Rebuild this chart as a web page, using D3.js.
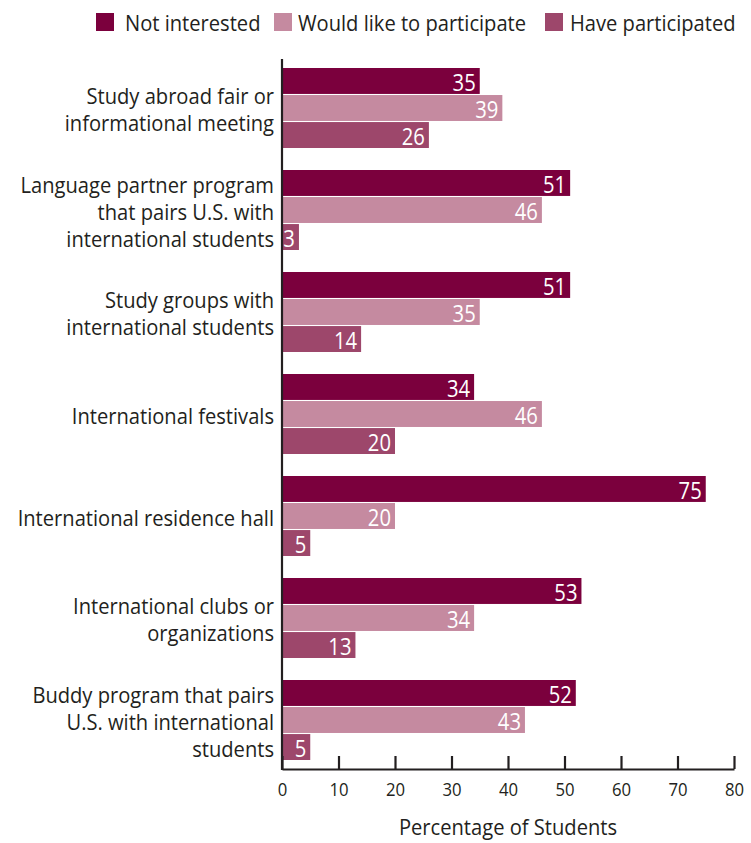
<!DOCTYPE html>
<html>
<head>
<meta charset="utf-8">
<script src="https://cdn.jsdelivr.net/npm/d3@7"></script>
<style>
  html, body { margin: 0; padding: 0; background: #fff; }
  svg text { font-family: "Open Sans", "Noto Sans", sans-serif; }
</style>
</head>
<body>
<svg id="chart" width="751" height="843"></svg>
<script>
// Activity categories (each may wrap over several lines)
const categories = [
  ["Study abroad fair or", "informational meeting"],
  ["Language partner program", "that pairs U.S. with", "international students"],
  ["Study groups with", "international students"],
  ["International festivals"],
  ["International residence hall"],
  ["International clubs or", "organizations"],
  ["Buddy program that pairs", "U.S. with international", "students"]
];
const seriesNames = ["Not interested", "Would like to participate", "Have participated"];
const notInterested = [35, 51, 51, 34, 75, 53, 52];
const wouldLike = [39, 46, 35, 46, 20, 34, 43];
const haveParticipated = [26, 3, 14, 20, 5, 13, 5];
const xTicks = [0, 10, 20, 30, 40, 50, 60, 70, 80];
const colors = ["#7b003d", "#c58aa0", "#9d476b"];

const seriesValues = [notInterested, wouldLike, haveParticipated];
const catKeys = categories.map(c => c.join(" "));

const svg = d3.select("#chart");
const x0 = 282, x1 = 734, yTop = 57, yBottom = 771, axisY = 769;
const ink = "#231f20";
// Horizontal squeeze giving the humanist sans a semi-condensed look
const narrow = 0.915;

const x = d3.scaleLinear().domain([0, 80]).range([x0, x1]);
const y = d3.scaleBand().domain(catKeys).range([yTop, yBottom])
  .paddingInner(22 / 102).paddingOuter(11 / 102);
const ySub = d3.scaleBand().domain(seriesNames).range([0, y.bandwidth()]).paddingInner(0.04);

// Legend
const legend = svg.append("g");
const legendX = [96, 274, 545];
const legendTextX = [125, 298, 570];
seriesNames.forEach((name, i) => {
  legend.append("rect").attr("x", legendX[i]).attr("y", 13).attr("width", 18).attr("height", 18)
    .attr("fill", colors[i]);
  legend.append("text")
    .attr("transform", `translate(${legendTextX[i]},31) scale(${narrow},1)`)
    .attr("font-size", 22).attr("fill", ink).text(name);
});

// Bars and value labels
const groups = svg.append("g").selectAll("g").data(catKeys).join("g")
  .attr("transform", d => `translate(0,${y(d)})`);

seriesNames.forEach((name, si) => {
  groups.append("rect")
    .attr("x", x(0))
    .attr("y", ySub(name))
    .attr("width", (d, ci) => x(seriesValues[si][ci]) - x(0))
    .attr("height", ySub.bandwidth())
    .attr("fill", colors[si]);
  groups.append("text")
    .attr("transform", (d, ci) =>
      `translate(${x(seriesValues[si][ci]) - 4},${ySub(name) + ySub.bandwidth() / 2 + 1}) scale(0.88,1)`)
    .attr("text-anchor", "end")
    .attr("dominant-baseline", "central")
    .attr("font-size", 23)
    .attr("fill", "#fff")
    .text((d, ci) => seriesValues[si][ci]);
});

// Category labels
const lineH = 27;
categories.forEach((lines, ci) => {
  const cy = y(catKeys[ci]) + y.bandwidth() / 2 + 1;
  const t = svg.append("text")
    .attr("transform", `translate(274,0) scale(${narrow},1)`)
    .attr("text-anchor", "end").attr("font-size", 22).attr("fill", ink);
  lines.forEach((ln, li) => {
    t.append("tspan").attr("x", 0)
      .attr("y", cy + (li - (lines.length - 1) / 2) * lineH)
      .attr("dominant-baseline", "central")
      .text(ln);
  });
});

// X axis with upward ticks
const xAxis = d3.axisBottom(x).tickValues(xTicks).tickSizeInner(-13).tickSizeOuter(0).tickPadding(14);
const ax = svg.append("g").attr("transform", `translate(0,${axisY})`).call(xAxis);
ax.select(".domain").attr("stroke", ink).attr("stroke-width", 2.2);
ax.selectAll(".tick line").attr("stroke", ink).attr("stroke-width", 2.2);
ax.selectAll(".tick text").attr("font-size", 19).attr("fill", ink)
  .attr("font-family", null)
  .attr("transform", "scale(0.88,1)");

// Y axis line
svg.append("line").attr("x1", x0).attr("x2", x0).attr("y1", 59).attr("y2", axisY + 1)
  .attr("stroke", ink).attr("stroke-width", 2.2);

// Axis title
svg.append("text")
  .attr("transform", `translate(${(x0 + x1) / 2},835) scale(${narrow},1)`)
  .attr("text-anchor", "middle")
  .attr("font-size", 22).attr("fill", ink).text("Percentage of Students");
</script>
</body>
</html>
